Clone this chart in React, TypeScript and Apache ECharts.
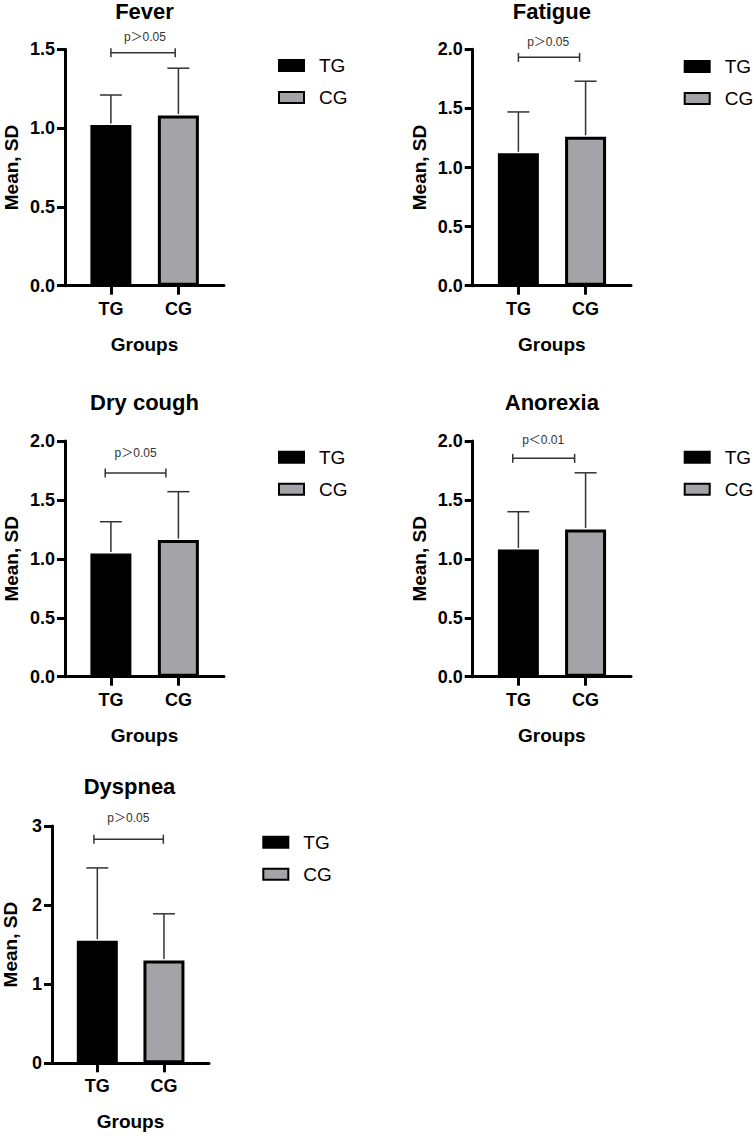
import React, { useEffect, useRef } from "react";
import * as echarts from "echarts";

// ---- data ----
const titles = ["Fever", "Fatigue", "Dry cough", "Anorexia", "Dyspnea"];
const groups = ["TG", "CG"];
const tgMean = [1.02, 1.12, 1.045, 1.08, 1.55];
const tgSD = [0.19, 0.35, 0.27, 0.32, 0.92];
const cgMean = [1.08, 1.26, 1.16, 1.25, 1.3];
const cgSD = [0.3, 0.47, 0.41, 0.48, 0.59];
const yMax = [1.5, 2, 2, 2, 3];
const yInterval = [0.5, 0.5, 0.5, 0.5, 1];
const yDecimals = [1, 1, 1, 1, 0];
const pLabels = ["p＞0.05", "p＞0.05", "p＞0.05", "p＜0.01", "p＞0.05"];
const bracketStart = [1.0, 1.0, 0.916, 0.916, 0.949];
const bracketEnd = [1.953, 1.911, 1.815, 1.837, 1.991];
const bracketY = [1.478, 1.932, 1.728, 1.853, 2.832];
const pLabelX = [1.504, 1.443, 1.366, 1.369, 1.465];
const pLabelY = [1.576, 2.064, 1.896, 2.008, 3.105];
const groupX = [1, 2];
const xMin = 0.32;
const xMax = 2.676;
const yAxisTitle = "Mean, SD";
const xAxisTitle = "Groups";

// ---- layout ----
const gridBoxes = [
  { left: 65, top: 49.3, width: 159, height: 236.4 },
  { left: 472.7, top: 49.3, width: 158.3, height: 236.4 },
  { left: 65, top: 441, width: 159, height: 235.7 },
  { left: 472.7, top: 441, width: 158.3, height: 235.7 },
  { left: 50, top: 826, width: 159, height: 237.3 },
];
const legendBoxes = [
  { left: 278, top: 56 },
  { left: 683.7, top: 57 },
  { left: 278, top: 447.7 },
  { left: 683.7, top: 447.7 },
  { left: 262.3, top: 832.7 },
];
const titleTops = [0, 0, 391.5, 391, 775];
const yNameGaps = [44, 44, 44, 44, 32];

const FONT = "'Liberation Sans', Arial, Helvetica, sans-serif";
const CG_COLOR = "#a3a3a8";
const ERR_COLOR = "#333333";

function buildOption() {
  const grid: any[] = [];
  const xAxis: any[] = [];
  const yAxis: any[] = [];
  const title: any[] = [];
  const legend: any[] = [];
  const series: any[] = [];

  titles.forEach((t, i) => {
    const g = gridBoxes[i];
    grid.push({ left: g.left, top: g.top, width: g.width, height: g.height });
    title.push({
      text: t,
      left: g.left + g.width / 2,
      top: titleTops[i],
      textAlign: "center",
      padding: 0,
      textStyle: { fontFamily: FONT, fontSize: 22, fontWeight: "bold", color: "#000" },
    });
    legend.push({
      data: groups,
      orient: "vertical",
      left: legendBoxes[i].left,
      top: legendBoxes[i].top,
      padding: 0,
      itemWidth: 25,
      itemHeight: 11,
      itemGap: 13,
      icon: "rect",
      selectedMode: false,
      textStyle: { fontFamily: FONT, fontSize: 19, color: "#000", padding: [0, 0, 0, 10] },
    });
    xAxis.push({
      type: "value",
      gridIndex: i,
      min: xMin,
      max: xMax,
      name: xAxisTitle,
      nameLocation: "middle",
      nameGap: 49,
      nameTextStyle: { fontFamily: FONT, fontSize: 19, fontWeight: "bold", color: "#000" },
      splitLine: { show: false },
      axisLine: { show: true, onZero: false, lineStyle: { color: "#000", width: 3 } },
      axisTick: {
        show: true,
        length: 9,
        customValues: groupX,
        lineStyle: { color: "#000", width: 3 },
      },
      axisLabel: {
        show: true,
        margin: 14,
        customValues: groupX,
        formatter: (v: number) => groups[Math.round(v) - 1] ?? "",
        fontFamily: FONT,
        fontSize: 18,
        fontWeight: "bold",
        color: "#000",
      },
    });
    yAxis.push({
      type: "value",
      gridIndex: i,
      min: 0,
      max: yMax[i],
      interval: yInterval[i],
      name: yAxisTitle,
      nameLocation: "middle",
      nameGap: yNameGaps[i],
      nameTextStyle: { fontFamily: FONT, fontSize: 19, fontWeight: "bold", color: "#000" },
      splitLine: { show: false },
      axisLine: { show: true, onZero: false, lineStyle: { color: "#000", width: 3 } },
      axisTick: { show: true, length: 8, lineStyle: { color: "#000", width: 3 } },
      axisLabel: {
        margin: 10,
        formatter: (v: number) => v.toFixed(yDecimals[i]),
        fontFamily: FONT,
        fontSize: 18,
        fontWeight: "bold",
        color: "#000",
      },
    });

    series.push({
      type: "bar",
      name: groups[0],
      xAxisIndex: i,
      yAxisIndex: i,
      barWidth: 41,
      barGap: "-100%",
      data: [[groupX[0], tgMean[i]]],
      itemStyle: { color: "#000", borderColor: "#000", borderWidth: 3 },
      z: 2,
    });
    series.push({
      type: "bar",
      name: groups[1],
      xAxisIndex: i,
      yAxisIndex: i,
      barWidth: 41,
      barGap: "-100%",
      data: [[groupX[1], cgMean[i]]],
      itemStyle: { color: CG_COLOR, borderColor: "#000", borderWidth: 3 },
      z: 2,
    });
    // error bars (upper SD)
    series.push({
      type: "custom",
      name: "err" + i,
      xAxisIndex: i,
      yAxisIndex: i,
      z: 3,
      encode: { x: 0, y: 1 },
      data: [
        [groupX[0], tgMean[i], tgSD[i]],
        [groupX[1], cgMean[i], cgSD[i]],
      ],
      renderItem: (params: any, api: any) => {
        const x = api.value(0);
        const m = api.value(1);
        const s = api.value(2);
        const p0 = api.coord([x, m]);
        const p1 = api.coord([x, m + s]);
        const st = { stroke: ERR_COLOR, lineWidth: 1.5 };
        return {
          type: "group",
          children: [
            { type: "line", shape: { x1: p0[0], y1: p0[1] - 1.5, x2: p1[0], y2: p1[1] }, style: st },
            { type: "line", shape: { x1: p1[0] - 11, y1: p1[1], x2: p1[0] + 11, y2: p1[1] }, style: st },
          ],
        };
      },
    });
    // significance bracket
    series.push({
      type: "custom",
      name: "sig" + i,
      xAxisIndex: i,
      yAxisIndex: i,
      z: 3,
      encode: { x: 0, y: 1 },
      data: [[bracketStart[i], bracketY[i], bracketEnd[i], pLabelX[i], pLabelY[i]]],
      renderItem: (params: any, api: any) => {
        const a = api.coord([api.value(0), api.value(1)]);
        const b = api.coord([api.value(2), api.value(1)]);
        const tp = api.coord([api.value(3), api.value(4)]);
        const st = { stroke: ERR_COLOR, lineWidth: 1.5 };
        return {
          type: "group",
          children: [
            { type: "line", shape: { x1: a[0], y1: a[1], x2: b[0], y2: b[1] }, style: st },
            { type: "line", shape: { x1: a[0], y1: a[1] - 4.5, x2: a[0], y2: a[1] + 4.5 }, style: st },
            { type: "line", shape: { x1: b[0], y1: b[1] - 4.5, x2: b[0], y2: b[1] + 4.5 }, style: st },
            {
              type: "text",
              x: tp[0],
              y: tp[1],
              style: {
                text: pLabels[params.seriesIndex ? Math.floor(params.seriesIndex / 4) : 0],
                align: "center",
                verticalAlign: "middle",
                fill: "#333",
                font: `12px 'Liberation Sans', 'Noto Sans CJK SC', sans-serif`,
              },
            },
          ],
        };
      },
    });
  });

  return {
    animation: false,
    backgroundColor: "#fff",
    title,
    legend,
    grid,
    xAxis,
    yAxis,
    series,
  };
}

export default function App() {
  const ref = useRef<HTMLDivElement>(null);
  useEffect(() => {
    document.body.style.margin = "0";
    if (!ref.current) return;
    const chart = echarts.init(ref.current, undefined, { renderer: "svg" });
    chart.setOption(buildOption() as any);
    return () => chart.dispose();
  }, []);
  return <div ref={ref} style={{ width: 754, height: 1136, background: "#fff" }} />;
}
